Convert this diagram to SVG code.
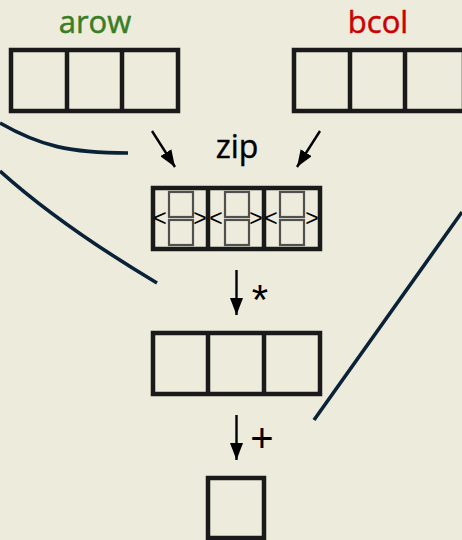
<svg xmlns="http://www.w3.org/2000/svg" width="462" height="540" viewBox="0 0 462 540">
  <defs>
    <style>
      .cell { fill: none; stroke: #1a1a1a; stroke-width: 4.5; stroke-linejoin: miter; }
      .pair { fill: none; stroke: #505050; stroke-width: 2.2; }
      .lbl { font-family: "Open Sans", "Noto Sans", sans-serif; font-size: 31px; stroke-width: 0.5; }
      .op { font-family: "Liberation Sans", "DejaVu Sans", sans-serif; fill: #000; }
      .ang { font-family: "Liberation Sans", "DejaVu Sans", sans-serif; font-size: 23px; fill: #000; }
      .flow { fill: none; stroke: #000; stroke-width: 2.4; }
      .wire { fill: none; stroke: #0a2238; stroke-width: 3.6; stroke-linecap: butt; }
    </style>
    <marker id="tipd" viewBox="0 0 17 13" refX="17" refY="6.5" markerWidth="17" markerHeight="13" markerUnits="userSpaceOnUse" orient="auto">
      <path d="M0,0 L17,6.5 L0,13 Z" fill="#000"/>
    </marker>
  </defs>

  <rect width="462" height="540" fill="#edebdc"/>

  <!-- input row vector -->
  <g id="arow">
    <text class="lbl" x="95" y="33" text-anchor="middle" fill="#3a7d22" stroke="#3a7d22">arow</text>
    <rect class="cell" x="11" y="50" width="167" height="61"/>
    <line class="cell" x1="67" y1="50" x2="67" y2="111"/>
    <line class="cell" x1="122" y1="50" x2="122" y2="111"/>
  </g>

  <!-- input column vector -->
  <g id="bcol">
    <text class="lbl" x="378" y="33" text-anchor="middle" fill="#cc0000" stroke="#cc0000">bcol</text>
    <rect class="cell" x="294" y="50" width="170" height="61"/>
    <line class="cell" x1="350" y1="50" x2="350" y2="111"/>
    <line class="cell" x1="405" y1="50" x2="405" y2="111"/>
  </g>

  <!-- zipped pairs -->
  <g id="zip">
    <text x="237" y="158" text-anchor="middle" style="font-family:'Open Sans','Noto Sans',sans-serif;font-size:32px;fill:#000;stroke:#000;stroke-width:0.4">zip</text>
    <rect class="cell" x="153" y="188" width="167" height="61"/>
    <line class="cell" x1="208" y1="188" x2="208" y2="249"/>
    <line class="cell" x1="264" y1="188" x2="264" y2="249"/>
    <g id="pair1">
      <rect class="pair" x="169" y="192" width="24" height="25"/>
      <rect class="pair" x="169" y="220" width="24" height="25"/>
      <text class="ang" x="160" y="226" text-anchor="middle">&lt;</text>
      <text class="ang" x="200" y="226" text-anchor="middle">&gt;</text>
    </g>
    <g id="pair2">
      <rect class="pair" x="225" y="192" width="24" height="25"/>
      <rect class="pair" x="225" y="220" width="24" height="25"/>
      <text class="ang" x="216" y="226" text-anchor="middle">&lt;</text>
      <text class="ang" x="256" y="226" text-anchor="middle">&gt;</text>
    </g>
    <g id="pair3">
      <rect class="pair" x="280" y="192" width="24" height="25"/>
      <rect class="pair" x="280" y="220" width="24" height="25"/>
      <text class="ang" x="271" y="226" text-anchor="middle">&lt;</text>
      <text class="ang" x="312" y="226" text-anchor="middle">&gt;</text>
    </g>
  </g>

  <!-- element-wise products -->
  <g id="products">
    <rect class="cell" x="153" y="333" width="167" height="61"/>
    <line class="cell" x1="208" y1="333" x2="208" y2="394"/>
    <line class="cell" x1="264" y1="333" x2="264" y2="394"/>
  </g>

  <!-- summed result -->
  <g id="sum">
    <rect class="cell" x="208" y="478" width="56" height="60"/>
  </g>

  <g id="connectors">
    <line class="flow" x1="152" y1="131" x2="175" y2="167" marker-end="url(#tipd)"/>
    <line class="flow" x1="320" y1="131" x2="297" y2="167" marker-end="url(#tipd)"/>
    <line class="flow" x1="236.5" y1="270" x2="236.5" y2="315" marker-end="url(#tipd)"/>
    <line class="flow" x1="236.5" y1="415" x2="236.5" y2="460" marker-end="url(#tipd)"/>
    <text class="op" x="260" y="314" text-anchor="middle" font-size="42">*</text>
    <text class="op" x="262" y="452" text-anchor="middle" font-size="40">+</text>
    <path class="wire" d="M0,123 C40,146 70,153 128,153"/>
    <path class="wire" d="M0,171 Q60,225 157,283"/>
    <path class="wire" d="M314,420 L462,212"/>
  </g>
</svg>
